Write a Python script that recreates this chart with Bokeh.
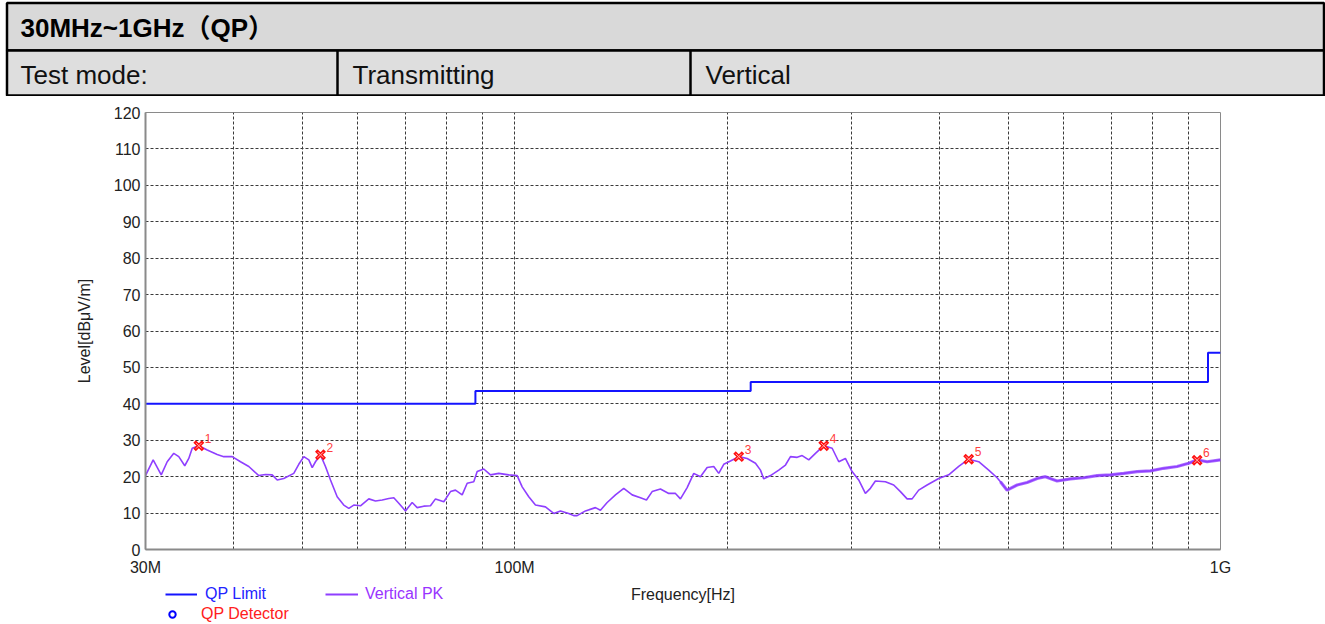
from bokeh.plotting import figure
from bokeh.models import Range1d, FixedTicker, Legend, LegendItem
from bokeh.layouts import column
from bokeh.embed import file_html
from bokeh.resources import INLINE
from bokeh.core.properties import value

# ---------------- data ----------------
title_text = "30MHz~1GHz（QP）"
row_labels = ["Test mode:", "Transmitting", "Vertical"]

trace_freq = [30.00, 30.76, 31.58, 32.20, 32.90, 33.44, 34.10, 34.55, 34.94, 35.70,
              36.69, 37.90, 38.73, 39.80, 40.90, 42.02, 43.41, 44.37, 45.35, 46.10,
              47.10, 48.66, 49.46, 50.28, 51.11, 51.68, 52.23, 53.09, 53.96, 54.85,
              56.06, 57.28, 58.23, 59.18, 60.49, 62.15, 63.52, 64.93, 66.34, 67.43,
              68.54, 70.05, 71.60, 72.78, 74.36, 76.00, 77.26, 79.38, 81.13, 82.46,
              84.28, 85.67, 87.53, 88.51, 90.43, 92.43, 94.96, 98.11, 100.84, 102.50,
              104.73, 107.04, 110.59, 113.62, 116.13, 119.32, 121.28, 122.63, 126.00, 130.18,
              132.32, 135.25, 138.96, 142.77, 146.74, 150.76, 153.74, 156.63, 160.92, 165.34,
              168.99, 171.77, 175.57, 179.39, 183.35, 187.40, 191.48, 194.63, 197.83, 202.20,
              207.75, 213.53, 219.39, 223.00, 225.41, 230.39, 236.72, 241.95, 245.93, 251.36,
              255.49, 261.05, 266.81, 274.14, 281.75, 287.88, 294.18, 300.68, 307.23, 314.01,
              319.17, 324.42, 335.19, 344.40, 352.02, 359.79, 365.70, 373.65, 384.03, 398.85,
              412.08, 425.73, 439.83, 454.44, 469.50, 482.55, 487.80, 498.54, 515.07, 532.14,
              549.78, 564.87, 586.80, 612.84, 640.02, 668.64, 698.31, 729.27, 761.88, 795.69,
              831.00, 868.02, 901.47, 926.52, 957.24, 1000.0]
trace_level = [20.3, 24.6, 20.5, 24.1, 26.4, 25.5, 23.0, 25.0, 27.8, 28.5,
               27.3, 26.1, 25.5, 25.5, 24.1, 22.8, 20.3, 20.6, 20.5, 19.1,
               19.5, 20.9, 23.4, 25.5, 24.6, 22.5, 24.1, 26.0, 22.8, 19.1,
               14.5, 12.2, 11.3, 12.2, 12.0, 13.9, 13.3, 13.6, 14.0, 14.2,
               12.7, 10.6, 12.9, 11.5, 11.9, 12.0, 13.9, 13.1, 15.9, 16.3,
               15.0, 18.2, 18.6, 21.4, 22.1, 20.5, 20.9, 20.5, 20.3, 17.2,
               14.5, 12.2, 11.7, 9.9, 10.6, 9.9, 9.3, 9.3, 10.6, 11.5,
               10.8, 12.9, 15.0, 16.8, 15.0, 14.2, 13.6, 15.9, 16.6, 15.4,
               15.4, 13.9, 17.0, 20.9, 20.0, 22.5, 22.8, 20.9, 23.4, 24.3,
               25.5, 25.0, 23.7, 21.8, 19.4, 20.3, 21.8, 23.2, 25.5, 25.3,
               25.8, 24.6, 26.4, 28.5, 27.8, 24.1, 25.0, 21.4, 19.1, 15.4,
               16.8, 18.8, 18.6, 17.7, 15.9, 13.9, 13.9, 16.3, 17.7, 19.5,
               20.5, 22.8, 24.8, 24.1, 21.8, 19.7, 18.6, 16.3, 17.7, 18.4,
               19.5, 20.0, 18.8, 19.4, 19.7, 20.3, 20.5, 20.9, 21.4, 21.6,
               22.3, 22.8, 23.7, 24.6, 24.1, 24.6]

limit_freq = [30, 88, 88, 216, 216, 960, 960, 1000]
limit_level = [40, 40, 43.5, 43.5, 46, 46, 54, 54]

peak_freq = [35.70, 53.09, 207.75, 274.14, 439.83, 926.52]
peak_level = [28.5, 26.0, 25.5, 28.5, 24.8, 24.5]
peak_labels = ["1", "2", "3", "4", "5", "6"]

y_ticks = list(range(0, 130, 10))
x_ticks = [30, 100, 1000]
x_tick_labels = ["30M", "100M", "1G"]
x_minor = [40, 50, 60, 70, 80, 90, 200, 300, 400, 500, 600, 700, 800, 900]

legend_labels = ["QP Limit", "Vertical PK", "QP Detector"]

FONT = "Liberation Sans"
W = 1325
LIMIT_COLOR = "#1414ff"
TRACE_COLOR = "#8f3fff"

# ---------------- header table ----------------
hdr = figure(width=W, height=96, x_range=Range1d(0, W), y_range=Range1d(96, 0),
             output_backend="svg", toolbar_location=None, min_border=0,
             x_axis_location=None, y_axis_location=None)
hdr.frame_align = False
hdr.grid.visible = False
hdr.outline_line_color = None
hdr.quad(left=[6.5, 6.5], right=[1323.5, 1323.5], top=[2.5, 50], bottom=[50, 95],
         fill_color=["#d9d9d9", "#dedede"], line_color="black", line_width=2.5)
hdr.segment(x0=[337, 690], y0=[50, 50], x1=[337, 690], y1=[95, 95],
            line_color="black", line_width=2.5)
hdr.text(x=[20], y=[27], text=[title_text], text_font=value(FONT + ", Noto Sans CJK SC"),
         text_font_size="26px", text_font_style="bold", text_color="black",
         text_baseline="middle", text_align="left")
hdr.text(x=[20, 352, 705], y=[74, 74, 74], text=row_labels, text_font=value(FONT),
         text_font_size="26px", text_color="#111111",
         text_baseline="middle", text_align="left")

# ---------------- main chart ----------------
p = figure(width=W, height=528, x_axis_type="log",
           x_range=Range1d(30, 1000), y_range=Range1d(0, 120),
           output_backend="svg", toolbar_location=None,
           min_border_left=145, min_border_right=105,
           min_border_top=16, min_border_bottom=75)
p.frame_align = False
p.background_fill_color = "white"
p.outline_line_color = "#8a8a8a"
p.outline_line_width = 1

p.xaxis.ticker = FixedTicker(ticks=x_ticks, minor_ticks=x_minor)
p.xaxis.major_label_overrides = dict(zip(x_ticks, x_tick_labels))
p.yaxis.ticker = FixedTicker(ticks=y_ticks)

for ax in (p.xaxis[0], p.yaxis[0]):
    ax.major_tick_line_color = None
    ax.minor_tick_line_color = None
    ax.major_tick_out = 0
    ax.major_tick_in = 0
    ax.minor_tick_out = 0
    ax.axis_line_color = "#8a8a8a"
    ax.axis_line_width = 2
    ax.major_label_text_font = FONT
    ax.major_label_text_font_size = "16px"
    ax.major_label_text_color = "#222222"
    ax.axis_label_text_font = FONT
    ax.axis_label_text_font_size = "16px"
    ax.axis_label_text_font_style = "normal"
    ax.axis_label_text_color = "#222222"

p.xaxis.axis_label = "Frequency[Hz]"
p.xaxis.major_label_standoff = 9
p.xaxis.axis_label_standoff = 7
p.yaxis.axis_label = "Level[dBμV/m]"
p.yaxis.major_label_standoff = 5
p.yaxis.axis_label_standoff = 18

for g in (p.xgrid[0], p.ygrid[0]):
    g.grid_line_color = "#3a3a3a"
    g.grid_line_dash = "3 2"
    g.grid_line_width = 1
p.xgrid.minor_grid_line_color = "#3a3a3a"
p.xgrid.minor_grid_line_dash = "3 2"
p.xgrid.minor_grid_line_width = 1

p.line(limit_freq, limit_level, line_color=LIMIT_COLOR, line_width=2)
p.line(trace_freq, trace_level, line_color=TRACE_COLOR, line_width=1.6)
# the dense high-frequency sweep reads as a thicker band
k = trace_freq.index(487.80)
p.line(trace_freq[k:], trace_level[k:], line_color=TRACE_COLOR, line_width=3.2, line_alpha=0.75)

p.scatter(peak_freq, peak_level, marker="x", size=12, line_color="#ff1010", line_width=3.5)
p.scatter(peak_freq, peak_level, marker="x", size=8, line_color="#ffb0b0", line_width=1)
p.text(x=peak_freq, y=peak_level, text=peak_labels, x_offset=6, y_offset=-3,
       text_font=value(FONT), text_font_size="12px", text_color="#ff4040",
       text_baseline="bottom", text_align="left")

# ---------------- legend strip (transparent overlay below the axis) ----------------
# Its renderers share the chart's data but sit on a range that keeps them out of view,
# so only their legend glyphs show; legend positions are in screen pixels.
LH = 44
leg = figure(width=W, height=LH, x_axis_type="log",
             x_range=Range1d(30, 1000), y_range=Range1d(500, 600),
             output_backend="svg", toolbar_location=None, min_border=0,
             x_axis_location=None, y_axis_location=None, margin=(-LH, 0, 0, 0))
leg.frame_align = False
leg.grid.visible = False
leg.outline_line_color = None
leg.background_fill_alpha = 0
leg.border_fill_alpha = 0
r_lim = leg.line(limit_freq, limit_level, line_color=LIMIT_COLOR, line_width=2)
r_pk = leg.line(trace_freq, trace_level, line_color=TRACE_COLOR, line_width=2)
r_qp = leg.scatter(peak_freq, peak_level, marker="circle", size=7, line_color="#0000ff",
                   fill_color=None, line_width=2)


def add_legend(label, r, color, vx, vy, gw, standoff):
    lg = Legend(items=[LegendItem(label=label, renderers=[r])], location=(vx, vy),
                orientation="horizontal", border_line_color=None,
                background_fill_alpha=0, padding=0, margin=0, spacing=0,
                glyph_width=gw, glyph_height=16, label_standoff=standoff,
                label_text_color=color, label_text_font=FONT,
                label_text_font_size="16px", label_height=16)
    leg.add_layout(lg)


add_legend(legend_labels[0], r_lim, "#2323ff", 165, 21, 32, 8)
add_legend(legend_labels[1], r_pk, "#9933ff", 325, 21, 33, 7)
add_legend(legend_labels[2], r_qp, "#ff2020", 164, 1, 16, 21)

layout = column(hdr, p, leg, spacing=0)
open("out.html", "w").write(file_html(layout, INLINE))
